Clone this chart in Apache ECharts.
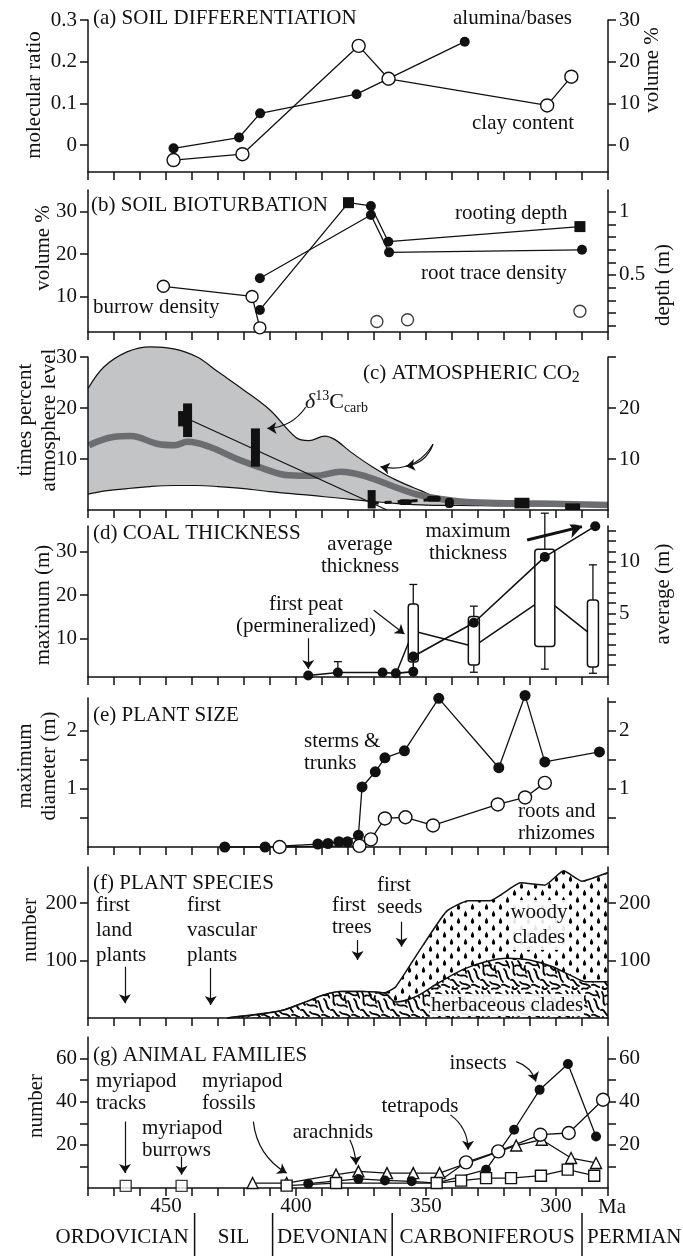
<!DOCTYPE html>
<html>
<head>
<meta charset="utf-8">
<script src="https://cdn.jsdelivr.net/npm/echarts@6.0.0/dist/echarts.min.js"></script>
<style>
html,body{margin:0;padding:0;background:#fff;}
#chart{width:683px;height:1256px;}
</style>
</head>
<body>
<div id="chart"></div>
<script>
// ================= DATA =================
const maTickLabels = [450, 400, 350, 300];

// (a) soil differentiation
const aluminaMa = [447.1, 421.9, 413.8, 376.7, 335.1];
const aluminaBases = [-0.008, 0.018, 0.076, 0.122, 0.248];
const clayMa = [447.1, 420.6, 375.9, 364.4, 303.4, 294.1];
const clayContent = [-3.6, -2.2, 23.8, 15.9, 9.5, 16.4];
const aLeftLabels = [0, 0.1, 0.2, 0.3];
const aRightLabels = [0, 10, 20, 30];

// (b) soil bioturbation
const rootDepthMa = [413.9, 379.8, 371.2, 364.5, 290.8];
const rootDepth = [0.224, 1.071, 1.045, 0.763, 0.882];
const rootTraceMa = [413.9, 371.2, 364.2, 290.0];
const rootTrace = [14.3, 29.2, 20.4, 21.0];
const burrowMa = [451.0, 416.9, 413.9];
const burrow = [12.4, 10.0, 2.6];
const burrowSingleMa = [368.9, 357.1, 290.8];
const burrowSingle = [4.1, 4.5, 6.5];
const bLeftLabels = [10, 20, 30];
const bRightLabels = [0.5, 1];
const bRightTicks = [0.1, 0.2, 0.3, 0.4, 0.5, 0.6, 0.7, 0.8, 0.9, 1.0];

// (c) atmospheric CO2
const co2Ma = [480, 474, 465, 456, 447, 438, 430, 420, 410, 400, 395, 389, 385, 379, 371, 362, 352, 346, 337, 320, 303, 280];
const co2Upper = [23.8, 28.0, 31.0, 32.0, 31.6, 30.0, 27.1, 23.5, 19.6, 14.2, 13.6, 14.5, 13.8, 11.4, 8.6, 6.0, 3.8, 2.6, 1.8, 1.6, 1.4, 1.3];
const co2Lower = [3.1, 3.7, 4.2, 4.6, 4.8, 4.8, 4.6, 4.2, 3.6, 3.1, 2.9, 2.6, 2.4, 2.1, 1.7, 1.3, 1.0, 0.9, 0.9, 0.8, 0.8, 0.8];
const co2BestMa = [479.6, 470.3, 463.6, 453.5, 446.7, 441.7, 433.3, 423.1, 413.0, 402.9, 392.8, 382.7, 372.6, 362.5, 352.4, 342.2, 332.1, 311.9, 280];
const co2Best = [12.7, 14.3, 14.5, 13.0, 12.7, 13.4, 12.4, 10.1, 8.2, 6.8, 6.7, 7.5, 6.5, 4.6, 2.9, 2.0, 1.5, 1.3, 1.0];
const d13cMa = [441.7, 444.0, 415.6, 370.9, 358.0, 347.0, 341.0, 313.1, 293.6];
const d13cLow = [14.3, 16.4, 8.5, 0.3, 1.0, 1.6, 0.4, 0.3, 0.0];
const d13cHigh = [20.9, 19.4, 16.0, 3.9, 2.1, 2.8, 2.4, 2.4, 1.3];
const d13cTrendMa = [441.7, 365.0];
const d13cTrend = [17.9, 0];
const d13cLinkMa = [370.9, 345.0];
const d13cLink = [1.3, 2.1];
const cLabels = [10, 20, 30];
const cRightLabels = [10, 20];

// (d) coal thickness
const coalMaxMa = [395.3, 383.9, 366.7, 361.6, 354.9, 354.9, 331.6, 304.3, 284.9];
const coalMax = [1.4, 2.1, 2.1, 1.9, 2.3, 5.8, 13.6, 28.8, 35.9];
const peatRangeMa = [383.9];
const peatRangeLow = [2.1];
const peatRangeHigh = [4.6];
const coalAvgMa = [354.9, 331.6, 304.3, 285.8];
const coalAvgWhiskLow = [0.3, -0.7, -0.4, -0.8];
const coalAvgBoxLow = [0.3, 0.0, 1.8, -0.2];
const coalAvgBoxHigh = [5.9, 4.7, 11.2, 6.3];
const coalAvgWhiskHigh = [7.8, 5.7, 14.7, 9.7];
const coalAvgLineMa = [361.6, 354.9, 331.6, 304.3, 285.8];
const coalAvgLine = [-0.9, 3.3, 1.8, 6.5, 2.8];
const dLeftLabels = [10, 20, 30];
const dRightLabels = [5, 10];
const dRightTicks = [0, 1, 2, 3, 4, 5, 6, 7, 8, 9, 10, 11, 12, 13];

// (e) plant size
const stemMa = [427.4, 411.9, 391.6, 387.7, 383.5, 380.2, 376.0, 374.6, 369.5, 365.8, 358.3, 345.1, 322.0, 311.9, 304.3, 283.3];
const stemDiam = [0, 0, 0.05, 0.06, 0.09, 0.09, 0.2, 1.03, 1.29, 1.53, 1.65, 2.55, 1.36, 2.6, 1.46, 1.63];
const rootMa = [406.3, 375.6, 371.2, 365.8, 357.9, 347.3, 322.4, 311.9, 304.3];
const rootDiam = [0, 0.02, 0.13, 0.49, 0.51, 0.37, 0.73, 0.85, 1.1];
const eLabels = [1, 2];
const eLeftTicks = [0.5, 1, 1.5, 2];
const eRightTicks = [0.5, 1, 1.5, 2, 2.5];

// (f) plant species
const totalSpMa = [426.5, 406.3, 396.2, 389.4, 382.7, 374.3, 365.8, 361.6, 352.4, 342.2, 333.8, 325.4, 313.6, 304.3, 297.1, 290.0, 280.0];
const totalSp = [0, 12, 28, 40, 46, 46, 44, 54.5, 118, 185, 204, 204, 235, 231, 256, 238, 253];
const herbSpMa = [426.5, 406.3, 396.2, 389.4, 382.7, 374.3, 365.8, 361.6, 354.0, 345.6, 335.5, 327.1, 318.6, 310.2, 301.8, 293.4, 288.3, 280.0];
const herbSp = [0, 12, 28, 40, 46, 46, 43, 28, 37, 60, 85, 98, 104, 101, 90, 72, 63, 63];
const fLabels = [100, 200];

// (g) animal families
const myriaTraceMa = [465.5, 444.0];
const myriaTrace = [1, 1];
const myriaMa = [403.6, 384.6, 345.9, 336.5, 326.9, 317.3, 305.8, 295.5, 285.3];
const myria = [1.1, 2.3, 2.3, 3.4, 4.6, 4.6, 5.7, 8.5, 5.7];
const arachMa = [416.7, 403.6, 384.6, 376.0, 365.0, 354.9, 344.8, 315.3, 305.5, 294.2, 284.6];
const arach = [2.3, 2.3, 6.2, 7.7, 6.9, 6.9, 6.9, 19.7, 22.4, 13.9, 11.6];
const insectMa = [395.3, 376.0, 365.8, 355.5, 345.9, 326.9, 316.1, 306.3, 295.4, 284.6];
const insect = [2.0, 4.2, 3.5, 3.1, 2.3, 8.5, 27.0, 45.5, 57.5, 23.9];
const tetraMa = [345.9, 334.6, 322.2, 306.0, 295.1, 281.9];
const tetra = [2.3, 11.9, 17.0, 24.7, 25.5, 40.9];
const gLabels = [20, 40, 60];
const gTicks = [10, 20, 30, 40, 50, 60];

// geological periods (Ma)
const periodNames = ['ORDOVICIAN', 'SIL', 'DEVONIAN', 'CARBONIFEROUS', 'PERMIAN'];
const periodStart = [510, 439, 409, 363, 290];
const periodEnd = [439, 409, 363, 290, 245];

// annotation arrows [fromMa, fromVal, toMa, toVal]
const arrowsC = [[396.2, 20.2, 411.0, 16.0], [347.3, 12.9, 367.5, 8.5], [347.3, 12.9, 357.7, 8.6]];
const arrowsD = [[395.3, 10.0, 395.3, 2.9], [370.1, 16.5, 358.3, 11.0]];
const arrowsDThick = [[311.1, 32.7, 290.0, 35.8]];
const arrowsF = [[465.8, 89, 465.8, 25.6], [432.8, 87, 432.8, 22.6], [376.3, 135.7, 376.3, 100.9], [359.4, 167.5, 359.4, 124]];
const arrowsG = [[465.8, 30.8, 465.8, 7.0], [444.0, 14.6, 444.0, 6.2], [416.4, 30.8, 403.6, 6.9], [379.3, 22.4, 376.9, 10.8], [340.6, 33.9, 333.8, 17.7], [315.3, 58.6, 307.7, 49.4]];

// ================= STYLE / LAYOUT =================
const FONT = 'Liberation Serif';
const FS = 21;
const INK = '#111';
const GRIDS = [[20, 172], [190, 332], [357, 510], [526, 677], [698, 847], [867, 1018], [1037, 1188]];
const Y_RANGE = [
  [[-0.0647, 0.3], [-6.47, 30]],
  [[1.62, 35.1], [0.0497, 1.171]],
  [[0, 30], [0, 30]],
  [[1.06, 35.94], [-1.16, 13.46]],
  [[0, 2.556], [0, 2.556]],
  [[0, 262.6], [0, 262.6]],
  [[0, 70], [0, 70]]
];
const D13C_PX = [9, 7, 9, 8, 13, 14, 9, 15, 15];
const D13C_R = [0, 0, 0, 0, 5, 5, 4, 0, 0];
const COAL_BOX_PX = [10, 11, 20, 11];
const ROOT_DEPTH_SQUARES = [1, 4];
const ARROW_CURVE_C = [0.25, 0.35, 0.3];
const ARROW_CURVE_G = [0, 0, -0.25, 0.1, 0.25, 0.25];

const pts = (ma, v) => ma.map((m, i) => [m, v[i]]);

function xAx(gi, z) {
  return {
    type: 'value', gridIndex: gi, min: 280, max: 480, interval: 10, inverse: true, z: z || 0,
    axisLine: { show: true, onZero: false, lineStyle: { color: INK, width: 1.5 } },
    axisTick: { show: true, length: 8, lineStyle: { color: INK, width: 1.5 } },
    axisLabel: {
      show: gi === 6, margin: 8, color: INK, fontFamily: FONT, fontSize: FS,
      formatter: v => (maTickLabels.indexOf(v) >= 0 ? String(v) : '')
    },
    splitLine: { show: false }
  };
}
function yAx(gi, side, labels, ticks, z) {
  const r = Y_RANGE[gi][side];
  return {
    type: 'value', gridIndex: gi, position: side ? 'right' : 'left', min: r[0], max: r[1], z: z || 0,
    axisLine: { show: true, onZero: false, lineStyle: { color: INK, width: 1.5 } },
    axisTick: { show: true, length: 8, customValues: ticks, lineStyle: { color: INK, width: 1.5 } },
    axisLabel: { show: labels.length > 0, customValues: labels.length ? labels : undefined, margin: 11, color: INK, fontFamily: FONT, fontSize: FS },
    splitLine: { show: false }
  };
}
const filledSym = (size) => ({ symbol: 'circle', symbolSize: size || 10, itemStyle: { color: INK, borderColor: INK, borderWidth: 0 } });
const openSym = (sym, size) => ({ symbol: sym || 'circle', symbolSize: size || 13, itemStyle: { color: '#fff', borderColor: INK, borderWidth: 1.4 } });
function lineS(gi, side, data, marker, extra) {
  return Object.assign({
    type: 'line', xAxisIndex: gi, yAxisIndex: 2 * gi + side, data: data,
    lineStyle: { color: INK, width: 1.3 }, z: 4, silent: true, clip: false
  }, marker || { symbol: 'none' }, extra || {});
}
function scatterS(gi, side, data, marker) {
  return Object.assign({ type: 'scatter', xAxisIndex: gi, yAxisIndex: 2 * gi + side, data: data, z: 4, silent: true }, marker);
}
function arrowS(gi, side, list, curves, width, size) {
  return {
    type: 'lines', coordinateSystem: 'cartesian2d', xAxisIndex: gi, yAxisIndex: 2 * gi + side, z: 6, silent: true,
    symbol: ['none', 'arrow'], symbolSize: size || 9,
    lineStyle: { color: INK, width: width || 1.2, opacity: 1 },
    data: list.map((a, i) => ({ coords: [[a[0], a[1]], [a[2], a[3]]], lineStyle: { curveness: curves ? curves[i] : 0 } }))
  };
}

// fill patterns for plant species areas
function woodyPattern() {
  const c = document.createElement('canvas'); c.width = 14; c.height = 14;
  const g = c.getContext('2d'); g.fillStyle = '#fff'; g.fillRect(0, 0, 14, 14); g.fillStyle = '#000';
  const drop = (x, y) => { g.beginPath(); g.moveTo(x, y - 3.5); g.quadraticCurveTo(x + 2, y, x + 1.7, y + 1); g.arc(x, y + 1, 1.7, 0, Math.PI); g.quadraticCurveTo(x - 2, y, x, y - 3.5); g.fill(); };
  drop(3.5, 4); drop(10.5, 11);
  return c;
}
function herbPattern() {
  const c = document.createElement('canvas'); c.width = 30; c.height = 30;
  const g = c.getContext('2d'); g.fillStyle = '#fff'; g.fillRect(0, 0, 30, 30);
  g.strokeStyle = '#000'; g.lineWidth = 1.8; g.lineCap = 'round';
  const paths = [
    [[2, 2], [6, 8], [1, 12], [5, 15]], [[8, 1], [12, 5], [9, 9], [14, 10]],
    [[16, 3], [20, 1], [22, 7], [27, 5]], [[24, 9], [28, 12], [25, 16], [29, 19]],
    [[7, 14], [10, 18], [14, 13], [17, 17]], [[18, 11], [21, 14], [19, 19], [23, 22]],
    [[1, 20], [5, 18], [4, 25], [9, 26]], [[10, 22], [13, 26], [17, 22], [20, 27]],
    [[22, 25], [25, 23], [27, 28], [30, 27]], [[12, 29], [14, 27], [16, 30], [18, 28]],
    [[15, 6], [13, 9], [17, 10], [16, 13]], [[3, 27], [1, 29], [6, 30], [7, 28]],
    [[26, 1], [29, 3], [27, 6], [30, 8]], [[5, 6], [7, 4], [9, 7], [11, 5]]
  ];
  paths.forEach(p => { g.beginPath(); g.moveTo(p[0][0], p[0][1]); g.bezierCurveTo(p[1][0], p[1][1], p[2][0], p[2][1], p[3][0], p[3][1]); g.stroke(); });
  return c;
}

// ================= OPTION =================
const grid = GRIDS.map(g => ({ left: 88, right: 75, top: g[0], height: g[1] - g[0], containLabel: false }));
const xAxis = [0, 1, 2, 3, 4, 5, 6].map(i => xAx(i, (i === 2 || i === 5) ? 5 : 0));
const yAxis = [
  yAx(0, 0, aLeftLabels, aLeftLabels), yAx(0, 1, aRightLabels, aRightLabels),
  yAx(1, 0, bLeftLabels, bLeftLabels), yAx(1, 1, bRightLabels, bRightTicks),
  yAx(2, 0, cLabels, cLabels, 5), yAx(2, 1, cRightLabels, cLabels, 5),
  yAx(3, 0, dLeftLabels, dLeftLabels), yAx(3, 1, dRightLabels, dRightTicks),
  yAx(4, 0, eLabels, eLeftTicks), yAx(4, 1, eLabels, eRightTicks),
  yAx(5, 0, fLabels, fLabels, 5), yAx(5, 1, fLabels, fLabels, 5),
  yAx(6, 0, gLabels, gTicks), yAx(6, 1, gLabels, gTicks)
];

const series = [];
// (a)
series.push(lineS(0, 0, pts(aluminaMa, aluminaBases), filledSym(10)));
series.push(lineS(0, 1, pts(clayMa, clayContent), openSym('circle', 13)));
// (b)
series.push(lineS(1, 0, pts(burrowMa, burrow), openSym('circle', 12)));
series.push(scatterS(1, 0, pts(burrowSingleMa, burrowSingle), openSym('circle', 12)));
series.push(lineS(1, 0, pts(rootTraceMa, rootTrace), filledSym(10)));
series.push(lineS(1, 1, pts(rootDepthMa, rootDepth).map((p, i) => ROOT_DEPTH_SQUARES.indexOf(i) >= 0 ? { value: p, symbol: 'rect', symbolSize: 11 } : { value: p }), filledSym(10)));
// (c)
series.push(lineS(2, 0, pts(co2Ma, co2Upper), { symbol: 'none' }, { smooth: 0.35, z: 1, areaStyle: { color: '#c3c4c6', opacity: 1 }, lineStyle: { color: INK, width: 1.2 } }));
series.push(lineS(2, 0, pts(co2Ma, co2Lower), { symbol: 'none' }, { smooth: 0.35, z: 1, areaStyle: { color: '#fff', opacity: 1 }, lineStyle: { color: INK, width: 1.2 } }));
series.push(lineS(2, 0, pts(co2BestMa, co2Best), { symbol: 'none' }, { smooth: 0.4, z: 2, lineStyle: { color: '#6c6d70', width: 6.5 } }));
series.push(lineS(2, 0, pts(d13cTrendMa, d13cTrend), { symbol: 'none' }, { z: 3, lineStyle: { color: INK, width: 1.2 } }));
series.push(lineS(2, 0, pts(d13cLinkMa, d13cLink), { symbol: 'none' }, { z: 3, lineStyle: { color: INK, width: 3, type: [7, 6] } }));
series.push({
  type: 'custom', coordinateSystem: 'cartesian2d', xAxisIndex: 2, yAxisIndex: 4, z: 4, silent: true,
  data: d13cMa.map((m, i) => [m, d13cLow[i], d13cHigh[i]]),
  renderItem: (params, api) => {
    const lo = api.coord([api.value(0), api.value(1)]);
    const hi = api.coord([api.value(0), api.value(2)]);
    const w = D13C_PX[params.dataIndex];
    return { type: 'rect', shape: { x: lo[0] - w / 2, y: hi[1], width: w, height: lo[1] - hi[1], r: D13C_R[params.dataIndex] }, style: { fill: INK } };
  }
});
series.push(arrowS(2, 0, arrowsC, ARROW_CURVE_C));
// (d)
series.push(lineS(3, 1, pts(coalAvgLineMa, coalAvgLine), { symbol: 'none' }, { z: 2, lineStyle: { color: INK, width: 1.5 } }));
series.push({
  type: 'custom', coordinateSystem: 'cartesian2d', xAxisIndex: 3, yAxisIndex: 7, z: 3, silent: true, clip: false,
  data: coalAvgMa.map((m, i) => [m, coalAvgWhiskLow[i], coalAvgBoxLow[i], coalAvgBoxHigh[i], coalAvgWhiskHigh[i]]),
  renderItem: (params, api) => {
    const m = api.value(0);
    const wl = api.coord([m, api.value(1)]), bl = api.coord([m, api.value(2)]);
    const bh = api.coord([m, api.value(3)]), wh = api.coord([m, api.value(4)]);
    const x = bh[0], w = COAL_BOX_PX[params.dataIndex], cap = 4;
    const st = { stroke: INK, lineWidth: 1.3, fill: null };
    const ch = [];
    if (wh[1] < bh[1] - 0.5) {
      ch.push({ type: 'line', shape: { x1: x, y1: wh[1], x2: x, y2: bh[1] }, style: st });
      ch.push({ type: 'line', shape: { x1: x - cap, y1: wh[1], x2: x + cap, y2: wh[1] }, style: st });
    }
    if (wl[1] > bl[1] + 0.5) {
      ch.push({ type: 'line', shape: { x1: x, y1: bl[1], x2: x, y2: wl[1] }, style: st });
      ch.push({ type: 'line', shape: { x1: x - cap, y1: wl[1], x2: x + cap, y2: wl[1] }, style: st });
    }
    ch.push({ type: 'rect', shape: { x: x - w / 2, y: bh[1], width: w, height: bl[1] - bh[1], r: 3 }, style: { fill: '#fff', stroke: INK, lineWidth: 1.5 } });
    return { type: 'group', children: ch };
  }
});
series.push({
  type: 'custom', coordinateSystem: 'cartesian2d', xAxisIndex: 3, yAxisIndex: 6, z: 4, silent: true,
  data: peatRangeMa.map((m, i) => [m, peatRangeLow[i], peatRangeHigh[i]]),
  renderItem: (params, api) => {
    const lo = api.coord([api.value(0), api.value(1)]), hi = api.coord([api.value(0), api.value(2)]);
    const st = { stroke: INK, lineWidth: 1.3 };
    return { type: 'group', children: [
      { type: 'line', shape: { x1: lo[0], y1: lo[1], x2: hi[0], y2: hi[1] }, style: st },
      { type: 'line', shape: { x1: hi[0] - 4, y1: hi[1], x2: hi[0] + 4, y2: hi[1] }, style: st }
    ] };
  }
});
series.push(lineS(3, 0, pts(coalMaxMa, coalMax), filledSym(10), { lineStyle: { color: INK, width: 1.6 } }));
series.push(arrowS(3, 0, arrowsD));
series.push(arrowS(3, 0, arrowsDThick, null, 3, 13));
// (e)
series.push(lineS(4, 0, pts(stemMa, stemDiam), filledSym(11)));
series.push(lineS(4, 0, pts(rootMa, rootDiam), openSym('circle', 13)));
// (f)
series.push(lineS(5, 0, pts(totalSpMa, totalSp), { symbol: 'none' }, { smooth: 0.15, z: 1, areaStyle: { color: { image: woodyPattern(), repeat: 'repeat' }, opacity: 1 }, lineStyle: { color: INK, width: 1.5 } }));
series.push(lineS(5, 0, pts(herbSpMa, herbSp), { symbol: 'none' }, { smooth: 0.35, z: 2, areaStyle: { color: { image: herbPattern(), repeat: 'repeat' }, opacity: 1 }, lineStyle: { color: INK, width: 1.5 } }));
series.push(arrowS(5, 0, arrowsF));
// (g)
series.push(scatterS(6, 0, pts(myriaTraceMa, myriaTrace), openSym('rect', 11)));
series.push(lineS(6, 0, pts(arachMa, arach), openSym('triangle', 11)));
series.push(lineS(6, 0, pts(insectMa, insect).map((p, i) => (i === 4 ? { value: p, symbol: 'none' } : { value: p })), filledSym(10)));
series.push(lineS(6, 0, pts(tetraMa, tetra).map((p, i) => (i === 0 ? { value: p, symbol: 'none' } : { value: p })), openSym('circle', 13)));
series.push(lineS(6, 0, pts(myriaMa, myria), openSym('rect', 11)));
series.push(arrowS(6, 0, arrowsG, ARROW_CURVE_G));

const chart = echarts.init(document.getElementById('chart'), null, { renderer: 'canvas', width: 683, height: 1256 });
chart.setOption({ animation: false, backgroundColor: '#fff', grid, xAxis, yAxis, series });

// ================= TEXT =================
function T(text, x, y, opt, rot) {
  const el = { type: 'text', x: x, y: y, silent: true, z: 50,
    style: Object.assign({ text: text, fill: INK, fontFamily: FONT, fontSize: FS, align: 'left', verticalAlign: 'middle', lineHeight: 22 }, opt || {}) };
  if (rot) el.rotation = Math.PI / 2;
  return el;
}
const C = { align: 'center' };
const WHITE_BG = { backgroundColor: 'rgba(255,255,255,0.9)', padding: [0, 1] };
const els = [
  // (a)
  T('(a) SOIL DIFFERENTIATION', 93, 18), T('alumina/bases', 453, 18), T('clay content', 472, 123),
  T('molecular ratio', 34, 95, C, true), T('volume %', 652, 70, C, true),
  // (b)
  T('(b) SOIL BIOTURBATION', 91, 205), T('rooting depth', 455, 213), T('root trace density', 421, 273), T('burrow density', 93, 307),
  T('volume %', 43, 248, C, true), T('depth (m)', 663, 285, C, true),
  // (c)
  T('{m|(c) ATMOSPHERIC CO}{b|2}', 363, 373, { rich: { m: { fontSize: FS, fontFamily: FONT, lineHeight: 26 }, b: { fontSize: 16, fontFamily: FONT, verticalAlign: 'bottom', lineHeight: 16 } } }),
  T('{d|δ}{s|13}{m|C}{b|carb}', 305, 402, { rich: { d: { fontSize: 22, fontFamily: FONT, fontStyle: 'italic', lineHeight: 26 }, m: { fontSize: 22, fontFamily: FONT, lineHeight: 26 }, s: { fontSize: 14, fontFamily: FONT, verticalAlign: 'top', lineHeight: 14 }, b: { fontSize: 14, fontFamily: FONT, verticalAlign: 'bottom', lineHeight: 14 } } }),
  T('times percent\natmosphere level', 37.5, 420, { align: 'center', lineHeight: 24 }, true),
  // (d)
  T('(d) COAL THICKNESS', 93, 533), T('average\nthickness', 360, 555, C), T('first peat\n(permineralized)', 306, 615, C),
  T('maximum\nthickness', 468, 542, C),
  T('maximum (m)', 43, 605, C, true), T('average (m)', 663, 594, C, true),
  // (e)
  T('(e) PLANT SIZE', 93, 715), T('sterms &\ntrunks', 304, 752), T('roots and\nrhizomes', 518, 822),
  T('maximum\ndiameter (m)', 37.5, 766, { align: 'center', lineHeight: 24 }, true),
  // (f)
  T('(f) PLANT SPECIES', 93, 883), T('first\nland\nplants', 96, 930, { lineHeight: 25 }), T('first\nvascular\nplants', 187, 930, { lineHeight: 25 }),
  T('first\ntrees', 332, 916), T('first\nseeds', 377, 896),
  T('woody\nclades', 539, 925, Object.assign({ align: 'center', lineHeight: 25 }, WHITE_BG)),
  T('herbaceous clades', 507, 1005, Object.assign({ align: 'center' }, WHITE_BG)),
  T('number', 30, 930, C, true),
  // (g)
  T('(g) ANIMAL FAMILIES', 93, 1055), T('myriapod\ntracks', 96, 1092), T('myriapod\nburrows', 142, 1139), T('myriapod\nfossils', 202, 1092),
  T('arachnids', 333, 1132, C), T('tetrapods', 420, 1106, C), T('insects', 478, 1063, C),
  T('number', 36, 1106, C, true),
  T('Ma', 598, 1207)
];
// geological periods under the time axis
const px = ma => chart.convertToPixel({ xAxisIndex: 6 }, ma);
periodNames.forEach((name, i) => {
  const xs = px(periodStart[i]), xe = px(periodEnd[i]);
  if (i > 0) els.push({ type: 'line', silent: true, z: 50, shape: { x1: xs, y1: 1213, x2: xs, y2: 1256 }, style: { stroke: INK, lineWidth: 1.5 } });
  let x = (xs + xe) / 2, al = 'center';
  if (i === 0) { x = xe - 6; al = 'right'; }
  if (i === periodNames.length - 1) { x = xs + 5; al = 'left'; }
  els.push(T(name, x, 1237, { align: al }));
});
chart.setOption({ graphic: { elements: els } });
</script>
</body>
</html>
